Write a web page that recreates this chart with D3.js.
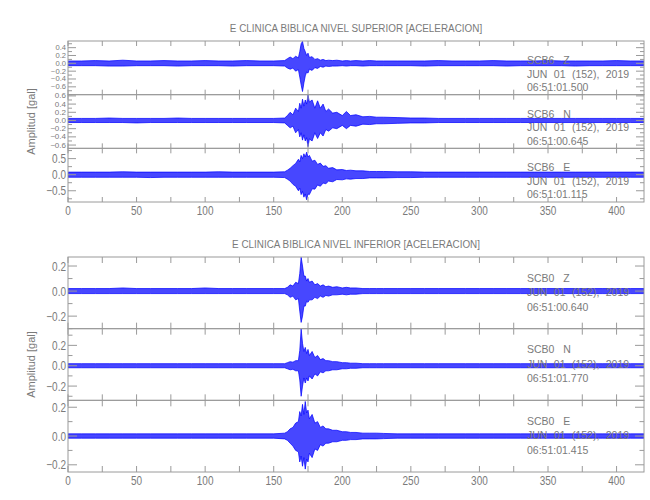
<!DOCTYPE html>
<html>
<head>
<meta charset="utf-8">
<script src="https://cdn.jsdelivr.net/npm/d3@7"></script>
<style>
  html, body { margin: 0; padding: 0; background: #fff; }
  svg { display: block; }
  text { font-family: "Liberation Sans", Arial, sans-serif; fill: #7a7a7a; }
</style>
</head>
<body>
<svg id="chart" width="650" height="500"></svg>
<script>
// ---------------- DATA ----------------
const titles = ["E CLINICA BIBLICA NIVEL SUPERIOR [ACELERACION]", "E CLINICA BIBLICA NIVEL INFERIOR [ACELERACION]"];
const yTitle = "Amplitud [gal]";
const xTicks = [0, 50, 100, 150, 200, 250, 300, 350, 400];
const xMinorTicks = [25, 75, 125, 175, 225, 275, 325, 375, 425];

// time (s) of each envelope reading
const times = [0,10,20,30,40,50,60,70,80,90,100,110,120,130,140,150,
  158,160,162,164,166,168,
  169,170,171,172,173,174,175,176,
  178,180,182,184,186,188,190,
  193,196,200,203,206,210,
  215,220,225,230,
  240,250,260,270,280,290,300,310,320,330,340,350,360,370,380,390,400,410,420];

// Upper / lower envelopes of each trace (gal)
const scb6Z_hi = [0.06,0.06,0.07,0.06,0.08,0.06,0.06,0.07,0.06,0.06,0.07,0.06,0.06,0.07,0.06,0.06,
  0.07,0.12,0.16,0.12,0.18,0.14, 0.3,0.5,0.56,0.38,0.3,0.2,0.26,0.15,
  0.17,0.1,0.12,0.08,0.1,0.07,0.08, 0.07,0.08,0.06,0.07,0.06,0.07, 0.06,0.07,0.06,0.06,
  0.06,0.06,0.06,0.07,0.06,0.06,0.06,0.07,0.06,0.06,0.06,0.07,0.06,0.06,0.06,0.06,0.07,0.06,0.06];
const scb6Z_lo = [-0.06,-0.06,-0.06,-0.07,-0.07,-0.06,-0.06,-0.06,-0.07,-0.06,-0.06,-0.06,-0.07,-0.06,-0.06,-0.06,
  -0.07,-0.12,-0.15,-0.12,-0.2,-0.16, -0.35,-0.55,-0.72,-0.5,-0.32,-0.22,-0.25,-0.15,
  -0.18,-0.11,-0.13,-0.08,-0.1,-0.07,-0.08, -0.07,-0.07,-0.06,-0.07,-0.06,-0.06, -0.07,-0.06,-0.06,-0.06,
  -0.06,-0.06,-0.07,-0.06,-0.06,-0.06,-0.06,-0.06,-0.07,-0.06,-0.06,-0.06,-0.06,-0.07,-0.06,-0.06,-0.06,-0.06,-0.06];

const scb6N_hi = [0.05,0.05,0.05,0.06,0.05,0.05,0.05,0.05,0.06,0.05,0.05,0.05,0.05,0.05,0.05,0.05,
  0.06,0.12,0.2,0.14,0.3,0.22, 0.42,0.3,0.52,0.35,0.5,0.4,0.62,0.45,
  0.5,0.3,0.48,0.3,0.4,0.22,0.28, 0.18,0.2,0.12,0.22,0.12,0.14, 0.09,0.1,0.08,0.08,
  0.07,0.06,0.06,0.05,0.05,0.05,0.05,0.05,0.05,0.05,0.05,0.05,0.05,0.05,0.05,0.05,0.05,0.05,0.05];
const scb6N_lo = [-0.05,-0.05,-0.05,-0.05,-0.05,-0.06,-0.05,-0.05,-0.05,-0.05,-0.05,-0.05,-0.05,-0.05,-0.05,-0.05,
  -0.06,-0.12,-0.18,-0.14,-0.3,-0.22, -0.4,-0.3,-0.48,-0.35,-0.5,-0.42,-0.64,-0.45,
  -0.5,-0.3,-0.44,-0.3,-0.38,-0.22,-0.26, -0.18,-0.2,-0.12,-0.2,-0.12,-0.14, -0.09,-0.1,-0.08,-0.08,
  -0.07,-0.06,-0.06,-0.05,-0.05,-0.05,-0.05,-0.05,-0.05,-0.05,-0.05,-0.05,-0.05,-0.05,-0.05,-0.05,-0.05,-0.05,-0.05];

const scb6E_hi = [0.08,0.08,0.08,0.08,0.09,0.08,0.08,0.08,0.08,0.08,0.08,0.09,0.08,0.08,0.08,0.08,
  0.09,0.14,0.2,0.28,0.35,0.48, 0.4,0.6,0.5,0.65,0.55,0.7,0.55,0.6,
  0.42,0.45,0.32,0.36,0.26,0.28,0.2, 0.22,0.15,0.16,0.13,0.14,0.12, 0.12,0.1,0.1,0.1,
  0.09,0.09,0.08,0.08,0.08,0.08,0.08,0.08,0.08,0.08,0.08,0.08,0.08,0.08,0.08,0.08,0.08,0.08,0.08];
const scb6E_lo = [-0.08,-0.08,-0.08,-0.08,-0.08,-0.08,-0.09,-0.08,-0.08,-0.08,-0.08,-0.08,-0.08,-0.08,-0.08,-0.08,
  -0.09,-0.14,-0.2,-0.3,-0.36,-0.5, -0.42,-0.62,-0.52,-0.7,-0.6,-0.78,-0.6,-0.62,
  -0.44,-0.45,-0.32,-0.36,-0.26,-0.28,-0.2, -0.22,-0.15,-0.16,-0.13,-0.14,-0.12, -0.12,-0.1,-0.1,-0.1,
  -0.09,-0.09,-0.08,-0.08,-0.08,-0.08,-0.08,-0.08,-0.08,-0.08,-0.08,-0.08,-0.08,-0.08,-0.08,-0.08,-0.08,-0.08,-0.08];

const scb0Z_hi = [0.02,0.02,0.02,0.02,0.025,0.02,0.02,0.02,0.02,0.02,0.025,0.02,0.02,0.02,0.02,0.02,
  0.02,0.03,0.05,0.04,0.07,0.06, 0.14,0.27,0.2,0.12,0.12,0.08,0.1,0.07,
  0.08,0.05,0.06,0.04,0.05,0.035,0.04, 0.03,0.035,0.025,0.03,0.025,0.025, 0.02,0.02,0.02,0.02,
  0.02,0.02,0.02,0.02,0.02,0.02,0.02,0.02,0.02,0.02,0.02,0.02,0.02,0.02,0.02,0.02,0.02,0.02,0.02];
const scb0Z_lo = [-0.02,-0.02,-0.02,-0.02,-0.02,-0.02,-0.02,-0.02,-0.02,-0.02,-0.02,-0.02,-0.02,-0.02,-0.02,-0.02,
  -0.02,-0.03,-0.05,-0.04,-0.07,-0.06, -0.16,-0.25,-0.2,-0.12,-0.12,-0.08,-0.09,-0.07,
  -0.07,-0.05,-0.06,-0.04,-0.05,-0.035,-0.04, -0.03,-0.03,-0.025,-0.03,-0.025,-0.025, -0.02,-0.02,-0.02,-0.02,
  -0.02,-0.02,-0.02,-0.02,-0.02,-0.02,-0.02,-0.02,-0.02,-0.02,-0.02,-0.02,-0.02,-0.02,-0.02,-0.02,-0.02,-0.02,-0.02];

const scb0N_hi = [0.02,0.02,0.02,0.02,0.02,0.02,0.02,0.02,0.02,0.02,0.02,0.02,0.02,0.02,0.02,0.02,
  0.02,0.03,0.04,0.035,0.05,0.05, 0.15,0.36,0.22,0.14,0.18,0.12,0.16,0.1,
  0.14,0.08,0.1,0.06,0.07,0.05,0.05, 0.04,0.04,0.03,0.03,0.025,0.025, 0.02,0.02,0.02,0.02,
  0.02,0.02,0.02,0.02,0.02,0.02,0.02,0.02,0.02,0.02,0.02,0.02,0.02,0.02,0.02,0.02,0.02,0.02,0.02];
const scb0N_lo = [-0.02,-0.02,-0.02,-0.02,-0.02,-0.02,-0.02,-0.02,-0.02,-0.02,-0.02,-0.02,-0.02,-0.02,-0.02,-0.02,
  -0.02,-0.03,-0.04,-0.035,-0.05,-0.05, -0.14,-0.3,-0.2,-0.12,-0.17,-0.12,-0.15,-0.1,
  -0.13,-0.08,-0.1,-0.06,-0.07,-0.05,-0.05, -0.04,-0.04,-0.03,-0.03,-0.025,-0.025, -0.02,-0.02,-0.02,-0.02,
  -0.02,-0.02,-0.02,-0.02,-0.02,-0.02,-0.02,-0.02,-0.02,-0.02,-0.02,-0.02,-0.02,-0.02,-0.02,-0.02,-0.02,-0.02,-0.02];

const scb0E_hi = [0.015,0.015,0.015,0.015,0.015,0.015,0.015,0.015,0.015,0.015,0.015,0.015,0.015,0.015,0.015,0.015,
  0.02,0.03,0.05,0.06,0.09,0.1, 0.17,0.14,0.22,0.15,0.24,0.16,0.18,0.12,
  0.15,0.09,0.1,0.06,0.07,0.05,0.05, 0.04,0.04,0.03,0.03,0.025,0.025, 0.02,0.02,0.02,0.018,
  0.015,0.015,0.015,0.015,0.015,0.015,0.015,0.015,0.015,0.015,0.015,0.015,0.015,0.015,0.015,0.015,0.015,0.015,0.015];
const scb0E_lo = [-0.015,-0.015,-0.015,-0.015,-0.015,-0.015,-0.015,-0.015,-0.015,-0.015,-0.015,-0.015,-0.015,-0.015,-0.015,-0.015,
  -0.02,-0.03,-0.05,-0.07,-0.1,-0.11, -0.18,-0.14,-0.21,-0.15,-0.23,-0.16,-0.18,-0.12,
  -0.15,-0.09,-0.1,-0.06,-0.07,-0.05,-0.05, -0.04,-0.04,-0.03,-0.03,-0.025,-0.025, -0.02,-0.02,-0.02,-0.018,
  -0.015,-0.015,-0.015,-0.015,-0.015,-0.015,-0.015,-0.015,-0.015,-0.015,-0.015,-0.015,-0.015,-0.015,-0.015,-0.015,-0.015,-0.015,-0.015];

// Per-trace labels and y-axis settings
const stations = ["SCB6", "SCB6", "SCB6", "SCB0", "SCB0", "SCB0"];
const components = ["Z", "N", "E", "Z", "N", "E"];
const dateLabel = "JUN 01 (152), 2019";
const startTimes = ["06:51:01.500", "06:51:00.645", "06:51:01.115", "06:51:00.640", "06:51:01.770", "06:51:01.415"];
const yDomains = [[-0.8, 0.57], [-0.68, 0.63], [-0.85, 0.82], [-0.30, 0.272], [-0.34, 0.364], [-0.25, 0.248]];
const yMajorTicks = [[-0.6, -0.4, -0.2, 0.0, 0.2, 0.4], [-0.6, -0.4, -0.2, 0.0, 0.2, 0.4, 0.6], [-0.5, 0.0, 0.5],
                     [-0.2, 0.0, 0.2], [-0.2, 0.0, 0.2], [-0.2, 0.0, 0.2]];
const yMinorSteps = [0.1, 0.1, 0.25, 0.1, 0.1, 0.1];
const highs = [scb6Z_hi, scb6N_hi, scb6E_hi, scb0Z_hi, scb0N_hi, scb0E_hi];
const lows  = [scb6Z_lo, scb6N_lo, scb6E_lo, scb0Z_lo, scb0N_lo, scb0E_lo];

// ---------------- LAYOUT ----------------
const svg = d3.select("#chart");
const axisColor = "#9a9a9a";
const textColor = "#7a7a7a";
const traceColor = "#0000ff";
const x = d3.scaleLinear().domain([0, 420]).range([68, 644]);

const groups = [
  { top: 41, bottom: 202, titleY: 32, lineGap: 13.5, firstOff: 23, xtl: 5, ytl: 8 },
  { top: 257, bottom: 472, titleY: 248, lineGap: 14.5, firstOff: 24.5, xtl: 6, ytl: 9 }
];
// y tick label size / horizontal scale per trace (dense axes use a smaller size)
const yLabelSizes = [6.6, 7, 12.5, 12.5, 12.5, 12.5];
const yLabelScales = [1.15, 1.15, 0.8, 0.8, 0.8, 0.8];

const fmt = d3.format(".1f");

function sText(g, str, px, py, size, sx, anchor) {
  return g.append("text")
    .attr("transform", `translate(${px},${py}) scale(${sx},1)`)
    .attr("text-anchor", anchor)
    .style("font-size", size + "px")
    .style("fill", textColor)
    .text(str);
}

groups.forEach((gp, gi) => {
  const g = svg.append("g");
  const ph = (gp.bottom - gp.top) / 3;
  // title
  sText(g, titles[gi], (x.range()[0] + x.range()[1]) / 2, gp.titleY, 11.5, 0.86, "middle");
  // y title
  g.append("text")
    .attr("transform", `translate(35,${(gp.top + gp.bottom) / 2}) rotate(-90)`)
    .attr("text-anchor", "middle")
    .style("font-size", "11px")
    .style("fill", textColor)
    .text(yTitle);

  for (let k = 0; k < 3; k++) {
    const i = gi * 3 + k;
    const y0 = gp.top + k * ph, y1 = y0 + ph;
    const y = d3.scaleLinear().domain(yDomains[i]).range([y1, y0]);
    const pg = g.append("g");

    const clipId = "clip" + i;
    pg.append("clipPath").attr("id", clipId)
      .append("rect").attr("x", x.range()[0]).attr("y", y0)
      .attr("width", x.range()[1] - x.range()[0]).attr("height", ph);

    // trace envelope
    const area = d3.area()
      .x((d, j) => x(times[j]))
      .y0((d, j) => y(lows[i][j]))
      .y1((d, j) => y(highs[i][j]));
    pg.append("path")
      .attr("clip-path", `url(#${clipId})`)
      .attr("d", area(times))
      .attr("fill", traceColor)
      .attr("fill-opacity", 0.72)
      .attr("stroke", traceColor)
      .attr("stroke-width", 0.8)
      .attr("stroke-opacity", 0.9);

    // frame
    pg.append("rect").attr("x", x.range()[0]).attr("y", y0)
      .attr("width", x.range()[1] - x.range()[0]).attr("height", ph)
      .attr("fill", "none").attr("stroke", axisColor).attr("stroke-width", 1);

    // x ticks (top and bottom, inward)
    const allX = xTicks.concat(xMinorTicks).filter(v => v >= x.domain()[0] && v <= x.domain()[1]);
    allX.forEach(v => {
      pg.append("line").attr("x1", x(v)).attr("x2", x(v)).attr("y1", y1).attr("y2", y1 - gp.xtl)
        .attr("stroke", axisColor);
      pg.append("line").attr("x1", x(v)).attr("x2", x(v)).attr("y1", y0).attr("y2", y0 + gp.xtl)
        .attr("stroke", axisColor);
    });

    // y ticks (major + minor, both sides, inward)
    const step = yMinorSteps[i];
    const d = yDomains[i];
    for (let m = Math.ceil(d[0] / step - 1e-9); m * step <= d[1] + 1e-9; m++) {
      const v = m * step;
      const isMajor = yMajorTicks[i].some(t => Math.abs(t - v) < 1e-6);
      const len = isMajor ? gp.ytl : gp.ytl / 2;
      pg.append("line").attr("x1", x.range()[0]).attr("x2", x.range()[0] + len)
        .attr("y1", y(v)).attr("y2", y(v)).attr("stroke", axisColor);
      pg.append("line").attr("x1", x.range()[1]).attr("x2", x.range()[1] - len)
        .attr("y1", y(v)).attr("y2", y(v)).attr("stroke", axisColor);
    }
    // y labels
    const ls = yLabelSizes[i];
    yMajorTicks[i].forEach(v => {
      sText(pg, fmt(v), x.range()[0] - 2, y(v) + ls * 0.36, ls, yLabelScales[i], "end");
    });

    // annotation
    const ax = 527;
    const t1 = pg.append("text")
      .attr("x", ax).attr("y", y0 + gp.firstOff)
      .style("font-size", "10.5px").style("fill", textColor);
    t1.append("tspan").text(stations[i] + " ");
    t1.append("tspan").attr("dx", 6).text(components[i]);
    pg.append("text").attr("x", ax).attr("y", y0 + gp.firstOff + gp.lineGap)
      .style("font-size", "10.5px").style("word-spacing", "3.5px").style("fill", textColor)
      .text(dateLabel);
    pg.append("text").attr("x", ax).attr("y", y0 + gp.firstOff + 2 * gp.lineGap)
      .style("font-size", "10.5px").style("fill", textColor)
      .text(startTimes[i]);
  }

  // x tick labels under the bottom panel
  xTicks.forEach(v => {
    sText(g, String(v), x(v), gp.bottom + 12.5, 12.5, 0.8, "middle");
  });
});
</script>
</body>
</html>
